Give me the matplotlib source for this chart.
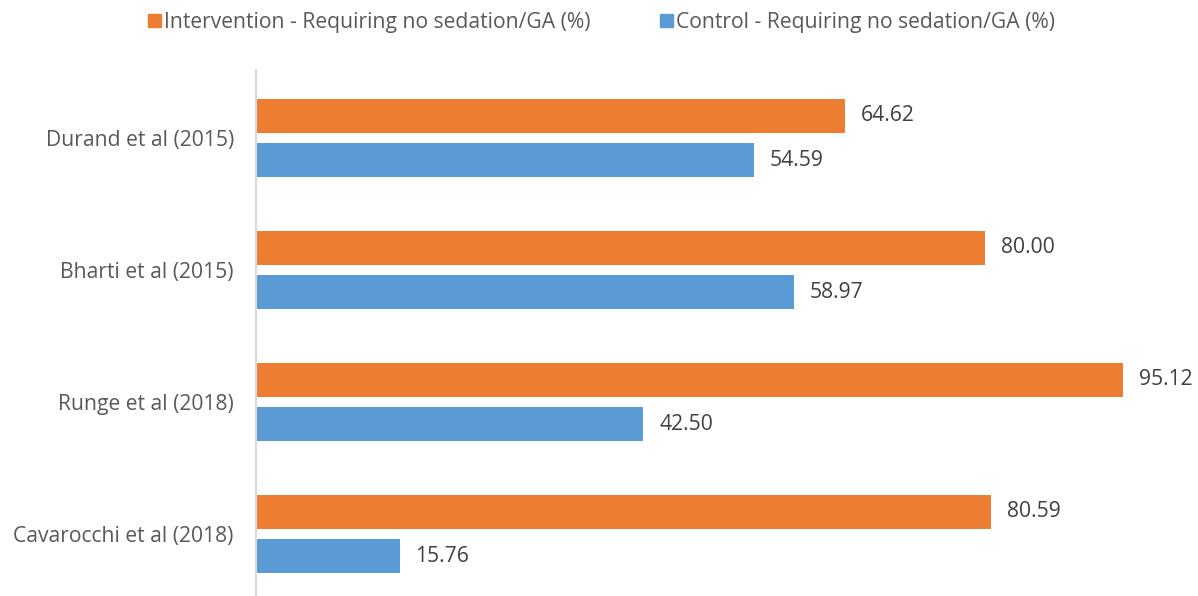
import matplotlib.pyplot as plt
import numpy as np
from matplotlib.patches import Patch

studies = ["Durand et al (2015)", "Bharti et al (2015)", "Runge et al (2018)", "Cavarocchi et al (2018)"]
intervention = [64.62, 80.00, 95.12, 80.59]
control = [54.59, 58.97, 42.50, 15.76]

orange = "#ED7D31"
blue = "#5B9BD5"

plt.rcParams["font.family"] = ["Open Sans", "DejaVu Sans"]

fig = plt.figure(figsize=(11.98, 5.96), dpi=100)
ax = fig.add_axes([256 / 1198, 0, 911.5 / 1198, 1 - 70 / 596])

y = np.arange(len(studies))
h = 0.26
off = 0.167
b1 = ax.barh(y - off, intervention, height=h, color=orange)
b2 = ax.barh(y + off, control, height=h, color=blue)

for bars, vals in ((b1, intervention), (b2, control)):
    for bar, v in zip(bars, vals):
        ax.text(v + 1.75, bar.get_y() + bar.get_height() / 2, f"{v:.2f}",
                va="center", ha="left", fontsize=15.2, color="#404040")

ax.set_xlim(0, 100)
ax.set_ylim(3.47, -0.515)
ax.set_yticks(y)
ax.set_yticklabels(studies, fontsize=15.2, color="#595959")
ax.tick_params(axis="y", length=0, pad=16)
ax.set_xticks([])
for s in ("top", "right", "bottom"):
    ax.spines[s].set_visible(False)
ax.spines["left"].set_color("#D9D9D9")
ax.spines["left"].set_linewidth(1.5)

handles = [Patch(color=orange, label="Intervention - Requiring no sedation/GA (%)"),
           Patch(color=blue, label="Control - Requiring no sedation/GA (%)")]
leg = fig.legend(handles=handles, loc="upper center", bbox_to_anchor=(0.502, 1.012), ncol=2,
                 frameon=False, fontsize=15.2, handlelength=0.6, handleheight=0.6,
                 handletextpad=0.15, columnspacing=3.3)
for t in leg.get_texts():
    t.set_color("#595959")

fig.savefig("out.png", dpi=100)
